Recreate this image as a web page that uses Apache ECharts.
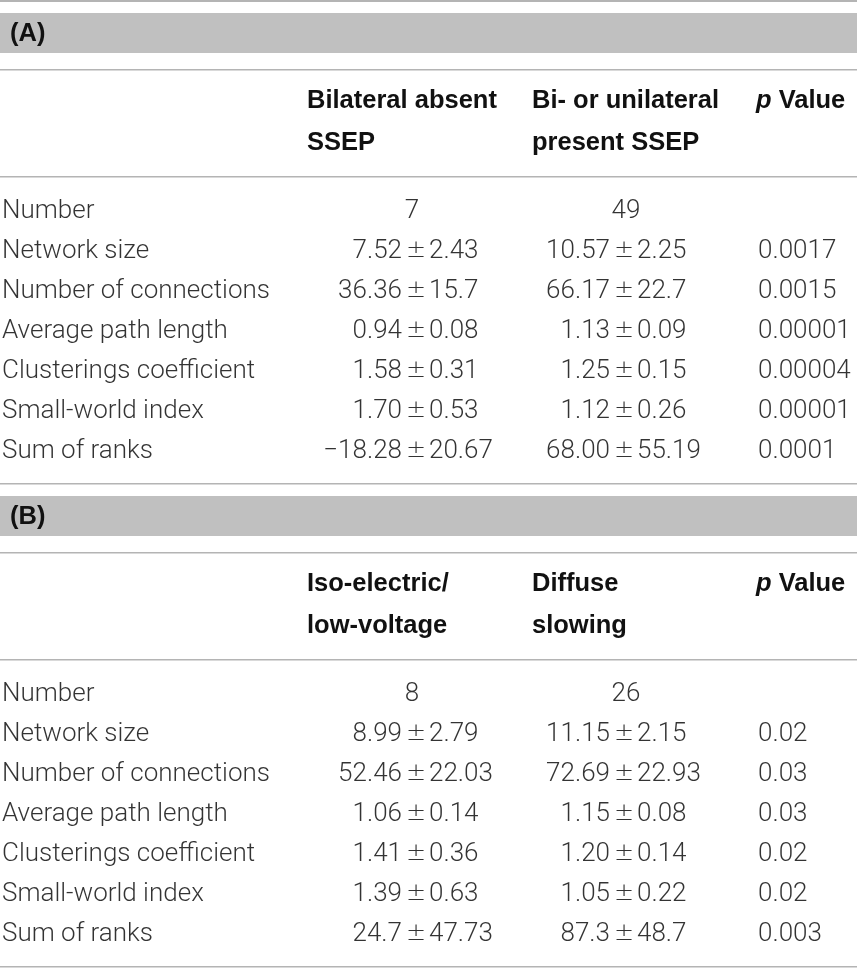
<!DOCTYPE html>
<html>
<head>
<meta charset="utf-8">
<script src="https://cdn.jsdelivr.net/npm/echarts@6/dist/echarts.min.js"></script>
<style>
  html, body { margin: 0; padding: 0; background: #fff; }
  #table { width: 857px; height: 968px; }
</style>
</head>
<body>
<div id="table"></div>
<script>
// 行名
var rowLabels = ['Number', 'Network size', 'Number of connections', 'Average path length',
  'Clusterings coefficient', 'Small-world index', 'Sum of ranks'];

// (A) SSEP
var headersA = ['Bilateral absent\nSSEP', 'Bi- or unilateral\npresent SSEP'];
var absentMean = ['7', '7.52', '36.36', '0.94', '1.58', '1.70', '\u221218.28'];
var absentSd = [null, '2.43', '15.7', '0.08', '0.31', '0.53', '20.67'];
var presentMean = ['49', '10.57', '66.17', '1.13', '1.25', '1.12', '68.00'];
var presentSd = [null, '2.25', '22.7', '0.09', '0.15', '0.26', '55.19'];
var pValueA = [null, '0.0017', '0.0015', '0.00001', '0.00004', '0.00001', '0.0001'];

// (B) EEG
var headersB = ['Iso-electric/\nlow-voltage', 'Diffuse\nslowing'];
var isoMean = ['8', '8.99', '52.46', '1.06', '1.41', '1.39', '24.7'];
var isoSd = [null, '2.79', '22.03', '0.14', '0.36', '0.63', '47.73'];
var diffuseMean = ['26', '11.15', '72.69', '1.15', '1.20', '1.05', '87.3'];
var diffuseSd = [null, '2.15', '22.93', '0.08', '0.14', '0.22', '48.7'];
var pValueB = [null, '0.02', '0.03', '0.03', '0.02', '0.02', '0.003'];

var W = 857, H = 968;
// 版面
var secOffset = [0, 483];
var rowTop = 211, rowStep = 40;
var col1Pm = 416, col2Pm = 624, col1Mid = 412, col2Mid = 626, pX = 758;

var leftPts = [], rightPts = [], midPts = [], pmPts = [];

function addCell(mean, sd, pm, mid, y) {
  if (sd === null) {
    midPts.push([mid, y, mean]);
  } else {
    rightPts.push([pm - 14, y, mean]);
    pmPts.push([pm, y, '\u00b1']);
    leftPts.push([pm + 13, y, sd]);
  }
}

var sections = [
  [absentMean, absentSd, presentMean, presentSd, pValueA],
  [isoMean, isoSd, diffuseMean, diffuseSd, pValueB]
];
sections.forEach(function (s, k) {
  rowLabels.forEach(function (lab, i) {
    var y = rowTop + rowStep * i + secOffset[k];
    leftPts.push([2, y, lab]);
    addCell(s[0][i], s[1][i], col1Pm, col1Mid, y);
    addCell(s[2][i], s[3][i], col2Pm, col2Mid, y);
    if (s[4][i] !== null) leftPts.push([pX, y, s[4][i]]);
  });
});

function textSeries(data, align, font, weight, size) {
  return {
    type: 'scatter',
    data: data,
    symbolSize: 0,
    silent: true,
    animation: false,
    label: {
      show: true,
      position: 'inside',
      align: align,
      verticalAlign: 'middle',
      formatter: function (p) { return p.value[2]; },
      fontFamily: font || 'Roboto',
      fontWeight: weight || 300,
      fontSize: size || 26,
      color: '#000'
    }
  };
}

// 灰色横线和标题栏
var graphics = [];
function hline(y, w) {
  graphics.push({ type: 'rect', shape: { x: 0, y: y, width: W, height: w || 1.5 },
    style: { fill: '#b4b4b4' }, silent: true });
}
var headerStyle = { fontFamily: 'Liberation Sans', fontWeight: 'bold', fontSize: 25.5, fill: '#111' };
function header(x, y, text) {
  graphics.push({ type: 'text', x: x, y: y, silent: true,
    style: Object.assign({ text: text, lineHeight: 42, verticalAlign: 'middle', align: 'left' }, headerStyle) });
}
hline(0, 2);
[['(A)', headersA], ['(B)', headersB]].forEach(function (sec, k) {
  var o = secOffset[k];
  graphics.push({ type: 'rect', shape: { x: 0, y: 13 + o, width: W, height: 40 },
    style: { fill: '#c0c0c0' }, silent: true });
  graphics.push({ type: 'text', x: 10, y: 34 + o, silent: true,
    style: Object.assign({ text: sec[0], verticalAlign: 'middle' }, headerStyle) });
  hline(69 + o);
  header(307, 122 + o, sec[1][0]);
  header(532, 122 + o, sec[1][1]);
  graphics.push({ type: 'text', x: 756, y: 101 + o, silent: true,
    style: Object.assign({ text: '{i|p} Value', verticalAlign: 'middle',
      rich: { i: { fontStyle: 'italic', fontWeight: 'bold', fontFamily: 'Liberation Sans', fontSize: 25.5, fill: '#111' } } }, headerStyle) });
  hline(176 + o);
  hline(483 + o);
});

var chart = echarts.init(document.getElementById('table'), null, { renderer: 'canvas' });
chart.setOption({
  animation: false,
  grid: { left: 0, right: 0, top: 0, bottom: 0 },
  xAxis: { type: 'value', min: 0, max: W, show: false },
  yAxis: { type: 'value', min: 0, max: H, inverse: true, show: false },
  graphic: graphics,
  series: [
    textSeries(leftPts, 'left'),
    textSeries(rightPts, 'right'),
    textSeries(midPts, 'center'),
    textSeries(pmPts, 'center', 'DejaVu Sans', 200, 24)
  ]
});
</script>
</body>
</html>
